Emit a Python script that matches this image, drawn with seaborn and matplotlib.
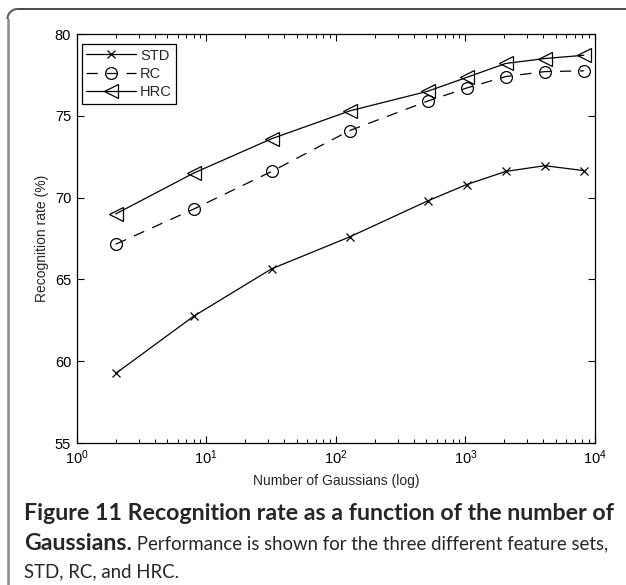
import numpy as np
import pandas as pd
import matplotlib
matplotlib.use("Agg")
import matplotlib.pyplot as plt
from matplotlib.lines import Line2D
from matplotlib.patches import Arc
from matplotlib.ticker import LogLocator, FixedLocator, NullFormatter
import seaborn as sns

# Number of Gaussians in the mixture (log-spaced)
n_gaussians = [2, 8, 32, 128, 512, 1024, 2048, 4096, 8192]
# Recognition rates (%) for each feature set
std_rate = [59.25, 62.75, 65.65, 67.6, 69.8, 70.8, 71.6, 71.95, 71.65]
rc_rate = [67.15, 69.3, 71.6, 74.1, 75.9, 76.7, 77.4, 77.7, 77.75]
hrc_rate = [69.0, 71.5, 73.6, 75.3, 76.5, 77.35, 78.2, 78.5, 78.7]
series_names = ["STD", "RC", "HRC"]
x_ticks = [1, 10, 100, 1000, 10000]
x_tick_labels = [r"$10^{0}$", r"$10^{1}$", r"$10^{2}$", r"$10^{3}$", r"$10^{4}$"]
y_ticks = [55, 60, 65, 70, 75, 80]

caption_bold_1 = "Figure 11 Recognition rate as a function of the number of"
caption_bold_2 = "Gaussians."
caption_reg_2 = " Performance is shown for the three different feature sets,"
caption_reg_3 = "STD, RC, and HRC."

sns.set_theme(style="white")
plt.rcParams["font.family"] = ["Liberation Sans", "DejaVu Sans"]
plt.rcParams["mathtext.fontset"] = "custom"
plt.rcParams["mathtext.rm"] = "Liberation Sans"
plt.rcParams["mathtext.it"] = "Liberation Sans"

W, H = 626, 585
fig = plt.figure(figsize=(W / 100, H / 100), dpi=100)
fig.patch.set_facecolor("white")


def px(x, y):
    """Pixel position (from top-left) to figure fraction."""
    return x / W, 1 - y / H


# Rounded page frame: top and left edges only, the rest runs off the page
r = 10.0
fx, fy = 7.5, 9.0
fig.add_artist(Line2D([px(fx + r, 0)[0], 1.0], [px(0, fy)[1]] * 2,
                      transform=fig.transFigure, color="#3a3a3a", lw=1.3))
fig.add_artist(Line2D([px(fx, 0)[0]] * 2, [px(0, fy + r)[1], 0.0],
                      transform=fig.transFigure, color="#8a8a8a", lw=1.8))
fig.add_artist(Arc((fx + r, H - (fy + r)), 2 * r, 2 * r, theta1=90, theta2=180,
                   transform=None, color="#5a5a5a", lw=1.5))

left, right, top, bottom = 76.7, 595.0, 34.0, 443.0
ax = fig.add_axes([left / W, 1 - bottom / H, (right - left) / W, (bottom - top) / H])
ax.set_facecolor("white")

df = pd.DataFrame({"n": n_gaussians, "STD": std_rate, "RC": rc_rate, "HRC": hrc_rate})

common = dict(color="black", linewidth=0.9, markerfacecolor="none",
              markeredgecolor="black", markeredgewidth=0.9, ax=ax)
sns.lineplot(data=df, x="n", y="STD", marker="x", markersize=6, label=series_names[0],
             linestyle="-", **common)
sns.lineplot(data=df, x="n", y="RC", marker="o", markersize=8.5, label=series_names[1],
             linestyle=(0, (9, 7)), **common)
sns.lineplot(data=df, x="n", y="HRC", marker="<", markersize=10.5, label=series_names[2],
             linestyle="-", **common)

ax.set_xscale("log")
ax.set_xlim(1, 1e4)
ax.set_ylim(55, 80)
ax.yaxis.set_major_locator(FixedLocator(y_ticks))
ax.xaxis.set_major_locator(FixedLocator(x_ticks))
ax.set_xticklabels(x_tick_labels)
ax.xaxis.set_minor_locator(LogLocator(base=10, subs=np.arange(2, 10), numticks=100))
ax.xaxis.set_minor_formatter(NullFormatter())

for s in ax.spines.values():
    s.set_visible(True)
    s.set_color("black")
    s.set_linewidth(0.9)

ax.tick_params(axis="both", which="both", direction="in", top=True, right=True,
               bottom=True, left=True, colors="black", labelsize=10.5, pad=4)
ax.tick_params(axis="both", which="major", length=5, width=0.8)
ax.tick_params(axis="x", which="minor", length=3, width=0.7)

ax.set_xlabel("Number of Gaussians (log)", fontsize=10, labelpad=5)
ax.set_ylabel("Recognition rate (%)", fontsize=10, labelpad=4)

leg = ax.legend(loc="upper left", bbox_to_anchor=(0.01, 0.975), fontsize=10.5,
                frameon=True, fancybox=False, edgecolor="black", handlelength=3.4,
                handletextpad=0.3, borderpad=0.3, labelspacing=0.3,
                borderaxespad=0.0)
leg.get_frame().set_linewidth(0.9)
leg.get_frame().set_facecolor("white")
leg.get_frame().set_alpha(1)

# Caption below the plot, sized so each line spans the text column
cap_font = ["Lato", "DejaVu Sans"]
x0_px = 24.0
renderer = fig.canvas.get_renderer()


def width_at(text, size, weight):
    t = fig.text(0, 0.5, text, fontsize=size, fontweight=weight, family=cap_font)
    w = t.get_window_extent(renderer=renderer).width
    t.remove()
    return w


bold_size = 12 * 586.0 / width_at(caption_bold_1, 12, "bold")
bold2_w = width_at(caption_bold_2, bold_size, "bold")
reg_size = 12 * (607.0 - x0_px - bold2_w) / width_at(caption_reg_2, 12, "normal")

fig.text(x0_px / W, px(0, 514)[1], caption_bold_1, fontsize=bold_size, fontweight="bold",
         family=cap_font, va="center", ha="left")
fig.text(x0_px / W, px(0, 544)[1], caption_bold_2, fontsize=bold_size, fontweight="bold",
         family=cap_font, va="center", ha="left")
fig.text((x0_px + bold2_w) / W, px(0, 544)[1], caption_reg_2, fontsize=reg_size,
         family=cap_font, va="center", ha="left")
fig.text(x0_px / W, px(0, 572)[1], caption_reg_3, fontsize=reg_size,
         family=cap_font, va="center", ha="left")

fig.savefig("out.png", dpi=100, facecolor="white")
